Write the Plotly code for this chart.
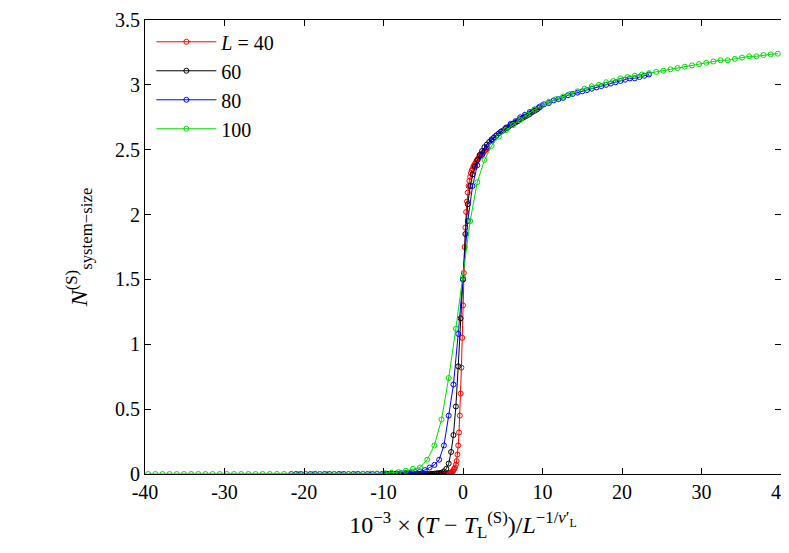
import numpy as np
import plotly.graph_objects as go

# L = 40
x40 = [round(-4.0 + 0.1*i, 2) for i in range(71)]
y40 = [0]*20 + [0.002, 0.003, 0.004, 0.006, 0.008, 0.01] + \
      [0.015, 0.02, 0.03, 0.04, 0.05, 0.07, 0.1, 0.15, 0.22, 0.32, 0.45, 0.62, 0.82, 1.05, 1.3,
       1.55, 1.75, 1.9, 2.02, 2.1, 2.17, 2.22, 2.26, 2.29, 2.32] + \
      [2.34, 2.35, 2.37, 2.38, 2.39, 2.40, 2.41, 2.42, 2.43, 2.44, 2.45, 2.455, 2.46, 2.47,
       2.475, 2.48, 2.49, 2.495, 2.50, 2.51]
# L = 60
x60 = [round(-9.9 + 0.3*i, 2) for i in range(67)]
y60 = [0]*20 + [0.002, 0.003, 0.005, 0.007] + \
      [0.01, 0.02, 0.04, 0.08, 0.17, 0.3, 0.52, 0.83, 1.2, 1.5, 1.85, 2.08, 2.22, 2.31, 2.37,
       2.42, 2.46, 2.49, 2.52, 2.54] + \
      [2.56, 2.58, 2.595, 2.61, 2.625, 2.64, 2.65, 2.665, 2.675, 2.69, 2.70, 2.71, 2.72, 2.735,
       2.745, 2.755, 2.765, 2.775, 2.79, 2.80, 2.81, 2.825, 2.84]
# L = 80
x80 = [round(-21.6 + 0.6*i, 2) for i in range(76)]
y80 = [0]*20 + [0.002, 0.003, 0.004, 0.006, 0.008] + \
      [0.01, 0.015, 0.02, 0.03, 0.05, 0.07, 0.11, 0.22, 0.45, 0.69, 1.08, 1.50, 1.95, 2.22, 2.38,
       2.46, 2.52, 2.57, 2.61] + \
      [2.64, 2.67, 2.70, 2.72, 2.75, 2.77, 2.79, 2.81, 2.83, 2.85, 2.86, 2.88, 2.89, 2.90, 2.92,
       2.93, 2.94, 2.95, 2.96, 2.97, 2.98, 2.99, 3.00, 3.01, 3.02, 3.03, 3.04, 3.05, 3.05, 3.06,
       3.07, 3.08]
# L = 100
x100 = [round(-39.6 + 0.9*i, 2) for i in range(89)]
y100 = [0]*30 + [0.002, 0.003, 0.004, 0.006] + \
       [0.01, 0.015, 0.025, 0.04, 0.05, 0.11, 0.22, 0.42, 0.74, 1.12, 1.52, 1.95, 2.25, 2.42,
        2.53, 2.6] + \
       [2.65, 2.69, 2.73, 2.77, 2.81, 2.84, 2.87, 2.89, 2.91, 2.93, 2.95, 2.97, 2.99, 3.00, 3.02,
        3.03, 3.05, 3.06, 3.07, 3.08, 3.09, 3.10, 3.11, 3.12, 3.13, 3.14, 3.15, 3.16, 3.17, 3.18,
        3.19, 3.19, 3.20, 3.21, 3.22, 3.22, 3.23, 3.235, 3.24]

x_ticks = list(range(-40, 41, 10))
x_labels = [str(v) for v in x_ticks]  # hyphen minus like the reference
y_ticks = [0, 0.5, 1, 1.5, 2, 2.5, 3, 3.5]
y_labels = ["0", "0.5", "1", "1.5", "2", "2.5", "3", "3.5"]

series = [("<i>L</i> = 40", x40, y40, "#ff0000"),
          ("60", x60, y60, "#000000"),
          ("80", x80, y80, "#0000ff"),
          ("100", x100, y100, "#00dd00")]

FONT = "Liberation Serif"
fig = go.Figure()
for name, xs, ys, c in series:
    fig.add_trace(go.Scatter(x=xs, y=ys, mode="lines+markers", name=name,
                             line=dict(color=c, width=1),
                             marker=dict(symbol="circle-open", size=5, color=c, line=dict(width=1))))

axis = dict(showgrid=False, zeroline=False, showline=True, mirror="ticks", linecolor="black",
            linewidth=1, ticks="inside", ticklen=6, tickcolor="black", automargin=False,
            tickfont=dict(family=FONT, size=20, color="black"))
fig.update_layout(
    width=789, height=553, plot_bgcolor="white", paper_bgcolor="white",
    margin=dict(l=137, r=16, t=12, b=87, autoexpand=False),
    font=dict(family=FONT, size=20, color="black"),
    xaxis=dict(range=[-40, 40], tickvals=x_ticks, ticktext=x_labels,
               title=dict(text="10<sup>−3</sup> × (<i>T</i> − <i>T</i><sub>L</sub><sup>(S)</sup>)/<i>L</i><sup>−1/<i>ν</i>′<sub>L</sub></sup>",
                          standoff=14), **axis),
    yaxis=dict(range=[0, 3.5], tickvals=y_ticks, ticktext=y_labels,
               title=dict(text="<i>N</i><sup>(S)</sup><sub>system−size</sub>", standoff=20), **axis),
    legend=dict(x=0.01, y=0.995, xanchor="left", yanchor="top", bgcolor="rgba(0,0,0,0)",
                font=dict(family=FONT, size=20), itemwidth=60, tracegroupgap=0),
)
fig.write_html("out.html")
